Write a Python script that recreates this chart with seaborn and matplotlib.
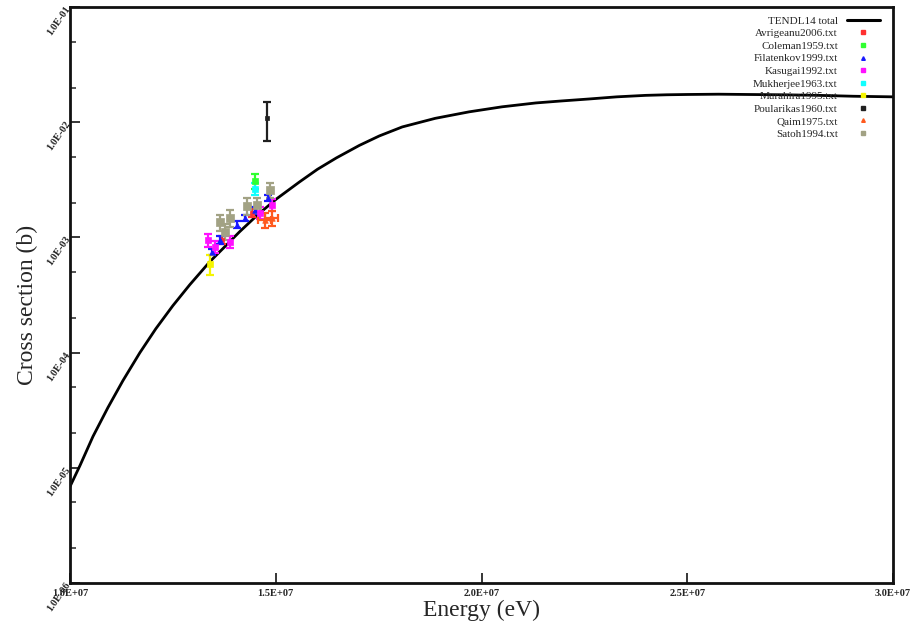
import numpy as np
import pandas as pd
import matplotlib
matplotlib.use("Agg")
import matplotlib.pyplot as plt
from matplotlib.lines import Line2D
from matplotlib.ticker import LogLocator, FixedLocator, NullFormatter
import seaborn as sns

# ---------------- data ----------------
tendl_energy = [1.0000e7, 1.0242e7, 1.0558e7, 1.0921e7, 1.1285e7, 1.1697e7, 1.2085e7,
                1.2498e7, 1.2910e7, 1.3395e7, 1.3758e7, 1.4122e7, 1.4559e7, 1.5019e7,
                1.5577e7, 1.6013e7, 1.6474e7, 1.7032e7, 1.7517e7, 1.8075e7, 1.8875e7,
                1.9699e7, 2.0499e7, 2.1324e7, 2.1954e7, 2.2609e7, 2.3288e7, 2.3991e7,
                2.4500e7, 2.4985e7, 2.5761e7, 2.6489e7, 2.7337e7, 2.8186e7, 2.9035e7,
                3.0000e7]
tendl_xs = [6.87e-6, 1.045e-5, 1.87e-5, 3.33e-5, 5.70e-5, 9.97e-5, 1.61e-4,
            2.55e-4, 3.88e-4, 6.14e-4, 8.28e-4, 1.12e-3, 1.57e-3, 2.16e-3,
            3.03e-3, 3.90e-3, 4.90e-3, 6.29e-3, 7.60e-3, 9.10e-3, 1.08e-2,
            1.23e-2, 1.36e-2, 1.47e-2, 1.53e-2, 1.59e-2, 1.66e-2, 1.71e-2,
            1.73e-2, 1.74e-2, 1.75e-2, 1.74e-2, 1.73e-2, 1.71e-2, 1.68e-2,
            1.66e-2]

avrigeanu_e = [1.3686e7, 1.4413e7]
avrigeanu_xs = [9.5e-4, 1.63e-3]
avrigeanu_err = [0.8e-4, 1.3e-4]

coleman_e = [1.4486e7]
coleman_xs = [3.10e-3]
coleman_err = [0.45e-3]

filatenkov_e = [1.3443e7, 1.3637e7, 1.4049e7, 1.4243e7, 1.4486e7, 1.4801e7]
filatenkov_xs = [7.5e-4, 9.5e-4, 1.29e-3, 1.48e-3, 1.73e-3, 2.20e-3]
filatenkov_err = [0.5e-4, 0.7e-4, 0.9e-4, 1.0e-4, 1.2e-4, 1.5e-4]

kasugai_e = [1.3346e7, 1.3516e7, 1.3880e7, 1.4607e7, 1.4898e7]
kasugai_xs = [9.5e-4, 8.3e-4, 9.2e-4, 1.63e-3, 1.92e-3]
kasugai_err = [1.2e-4, 1.0e-4, 1.1e-4, 1.9e-4, 2.2e-4]

mukherjee_e = [1.4486e7]
mukherjee_xs = [2.64e-3]
mukherjee_err = [0.3e-3]

murahira_e = [1.3395e7]
murahira_xs = [5.9e-4]
murahira_err = [1.2e-4]

poularikas_e = [1.4777e7]
poularikas_xs = [1.09e-2]
poularikas_err = [0.4e-2]

qaim_e = [1.4728e7, 1.4898e7]
qaim_xs = [1.42e-3, 1.48e-3]
qaim_err = [2.2e-4, 2.2e-4]
qaim_eerr = [1.5e5, 1.5e5]

satoh_e = [1.3637e7, 1.3758e7, 1.3880e7, 1.4292e7, 1.4534e7, 1.4850e7]
satoh_xs = [1.36e-3, 1.12e-3, 1.48e-3, 1.88e-3, 1.92e-3, 2.59e-3]
satoh_err = [2.2e-4, 1.8e-4, 2.4e-4, 3.0e-4, 3.0e-4, 4.0e-4]

x_ticks = [1.0e7, 1.5e7, 2.0e7, 2.5e7, 3.0e7]
x_ticklabels = ["1.0E+07", "1.5E+07", "2.0E+07", "2.5E+07", "3.0E+07"]
y_ticks = [1e-6, 1e-5, 1e-4, 1e-3, 1e-2, 1e-1]
y_ticklabels = ["1.0E-06", "1.0E-05", "1.0E-04", "1.0E-03", "1.0E-02", "1.0E-01"]

# ---------------- styling ----------------
sns.set_style("ticks")
plt.rcParams["font.family"] = ["Liberation Serif", "DejaVu Serif"]

datasets = [
    ("Avrigeanu2006.txt", avrigeanu_e, avrigeanu_xs, avrigeanu_err, None, "#ff3030", "s", 3),
    ("Coleman1959.txt", coleman_e, coleman_xs, coleman_err, None, "#30ff30", "s", 4),
    ("Filatenkov1999.txt", filatenkov_e, filatenkov_xs, filatenkov_err, None, "#1818ff", "^", 4),
    ("Kasugai1992.txt", kasugai_e, kasugai_xs, kasugai_err, None, "#ff10ff", "s", 4.5),
    ("Mukherjee1963.txt", mukherjee_e, mukherjee_xs, mukherjee_err, None, "#10ffff", "s", 4.5),
    ("Murahira1995.txt", murahira_e, murahira_xs, murahira_err, None, "#f5f500", "s", 5),
    ("Poularikas1960.txt", poularikas_e, poularikas_xs, poularikas_err, None, "#202020", "s", 3),
    ("Qaim1975.txt", qaim_e, qaim_xs, qaim_err, qaim_eerr, "#ff5a1e", "^", 4),
    ("Satoh1994.txt", satoh_e, satoh_xs, satoh_err, None, "#a2a284", "s", 5.5),
]

fig = plt.figure(figsize=(9.18, 6.28), dpi=100)
ax = fig.add_axes([70 / 918, 1 - 583 / 628, 823 / 918, 576 / 628])

curve = pd.DataFrame({"energy": tendl_energy, "xs": tendl_xs})
sns.lineplot(data=curve, x="energy", y="xs", ax=ax, color="black", lw=2.0,
             estimator=None, sort=False, legend=False, zorder=2)

rows = []
for name, e, s, err, eerr, col, mk, ms in datasets:
    for ei, si in zip(e, s):
        rows.append({"energy": ei, "xs": si, "dataset": name})
exp = pd.DataFrame(rows)

for name, e, s, err, eerr, col, mk, ms in datasets:
    ax.errorbar(e, s, yerr=err, xerr=eerr, fmt="none", ecolor=col,
                elinewidth=1.6, capsize=2.6, capthick=1.6, zorder=3)
    sub = exp[exp["dataset"] == name]
    sns.scatterplot(data=sub, x="energy", y="xs", ax=ax, color=col, marker=mk,
                    s=ms ** 2, edgecolor=col, linewidth=0.5, legend=False, zorder=4)

ax.set_yscale("log")
ax.set_xlim(1.0e7, 3.0e7)
ax.set_ylim(1e-6, 1e-1)

ax.xaxis.set_major_locator(FixedLocator(x_ticks))
ax.set_xticklabels(x_ticklabels, fontsize=7.5, fontweight="bold")
ax.yaxis.set_major_locator(FixedLocator(y_ticks))
ax.set_yticklabels(y_ticklabels, fontsize=7.5, fontweight="bold",
                   rotation=55, rotation_mode="anchor", ha="right", va="center")
ax.yaxis.set_minor_locator(LogLocator(base=10, subs=[2.0, 5.0]))
ax.yaxis.set_minor_formatter(NullFormatter())

ax.tick_params(axis="both", which="major", direction="in", length=7, width=1.3,
               pad=4, top=False, right=False)
ax.tick_params(axis="y", which="major", pad=1)
ax.tick_params(axis="y", which="minor", direction="in", length=4, width=1.1)
ax.tick_params(axis="x", which="minor", bottom=False)

for sp in ax.spines.values():
    sp.set_linewidth(2.0)
    sp.set_color("#111111")

ax.set_xlabel("Energy (eV)", fontsize=17)
ax.set_ylabel("Cross section (b)", fontsize=17)
ax.xaxis.set_label_coords(0.5, -0.029)
ax.yaxis.set_label_coords(-0.039, 0.483)

handles = [Line2D([0], [0], color="black", lw=2.2, label="TENDL14 total")]
for name, e, s, err, eerr, col, mk, ms in datasets:
    handles.append(Line2D([0], [0], color=col, marker=mk, ls="none", markersize=2.6,
                          label=name))
leg = ax.legend(handles=handles, loc="upper right",
                bbox_to_anchor=(880 / 918, 1 - 16 / 628), bbox_transform=fig.transFigure,
                frameon=False, markerfirst=False, fontsize=8, handlelength=3.0,
                handletextpad=0.8, labelspacing=0.25, borderpad=0, borderaxespad=0)
for t in leg.get_texts():
    t.set_ha("right")

fig.savefig("out.png", dpi=100)
